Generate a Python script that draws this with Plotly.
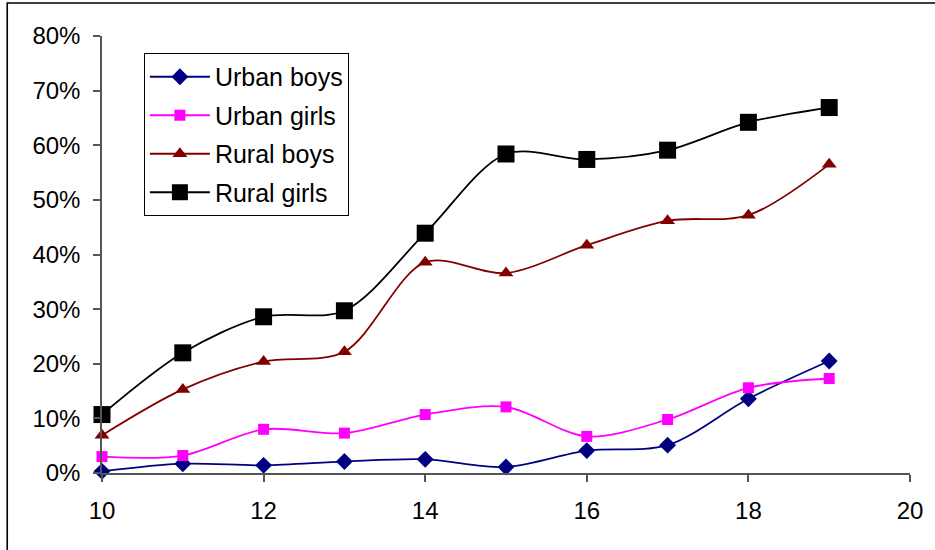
import plotly.graph_objects as go

# Age (years) and share of each group
ages = [10, 11, 12, 13, 14, 15, 16, 17, 18, 19]
urban_boys = [0.003, 0.017, 0.014, 0.021, 0.025, 0.011, 0.041, 0.051, 0.136, 0.205]
urban_girls = [0.030, 0.032, 0.080, 0.073, 0.107, 0.121, 0.067, 0.098, 0.156, 0.173]
rural_boys = [0.069, 0.153, 0.204, 0.222, 0.386, 0.366, 0.417, 0.462, 0.472, 0.565]
rural_girls = [0.107, 0.220, 0.286, 0.297, 0.439, 0.584, 0.574, 0.591, 0.642, 0.669]

x_ticks = [10, 12, 14, 16, 18, 20]

FONT = "Liberation Sans, Arial, sans-serif"
AXIS_COLOR = "#555555"

series = [
    ("Urban boys", urban_boys, "#000080", "diamond", 13),
    ("Urban girls", urban_girls, "#FF00FF", "square", 11),
    ("Rural boys", rural_boys, "#800000", "triangle-up", 13),
    ("Rural girls", rural_girls, "#000000", "square", 17),
]

fig = go.Figure()
for i, (name, values, color, symbol, size) in enumerate(series):
    fig.add_trace(go.Scatter(
        x=ages, y=values, name=name, mode="lines+markers",
        line=dict(color=color, width=1.8, shape="spline", smoothing=0.9),
        marker=dict(color=color, symbol=symbol, size=size, line=dict(width=0)),
        cliponaxis=False, legendgroup=f"g{i}",
    ))

W, H = 935, 550
L, R, T, B = 102, 23, 36, 76.5
pw, ph = W - L - R, H - T - B

def px_x(p):
    return (p - L) / pw

def px_y(p):
    return (H - B - p) / ph

# Outer frame around the chart
fig.add_shape(type="rect", xref="paper", yref="paper",
              x0=px_x(7), x1=px_x(960), y0=px_y(580), y1=px_y(3),
              line=dict(color="black", width=1.6), fillcolor="rgba(0,0,0,0)")

fig.update_layout(
    width=W, height=H,
    margin=dict(l=L, r=R, t=T, b=B, pad=0),
    paper_bgcolor="white", plot_bgcolor="white",
    font=dict(family=FONT, size=24, color="black"),
    showlegend=True,
    legend=dict(
        x=px_x(144), y=px_y(53), xanchor="left", yanchor="top",
        bordercolor="black", borderwidth=1, bgcolor="white",
        font=dict(family=FONT, size=25, color="black"),
        tracegroupgap=3, itemwidth=60,
    ),
    xaxis=dict(
        range=[10, 20], tickvals=x_ticks, showgrid=False, zeroline=False,
        showline=True, linecolor=AXIS_COLOR, linewidth=1.5,
        ticks="outside", ticklen=7, tickwidth=1.5, tickcolor=AXIS_COLOR,
        ticklabelstandoff=8, tickfont=dict(family=FONT, size=24, color="black"),
    ),
    yaxis=dict(
        range=[0, 0.8], dtick=0.1, tickformat=".0%", showgrid=False, zeroline=False,
        showline=True, linecolor=AXIS_COLOR, linewidth=1.5,
        ticks="outside", ticklen=7, tickwidth=1.5, tickcolor=AXIS_COLOR,
        ticklabelstandoff=8, tickfont=dict(family=FONT, size=24, color="black"),
    ),
)

fig.write_html("out.html")
